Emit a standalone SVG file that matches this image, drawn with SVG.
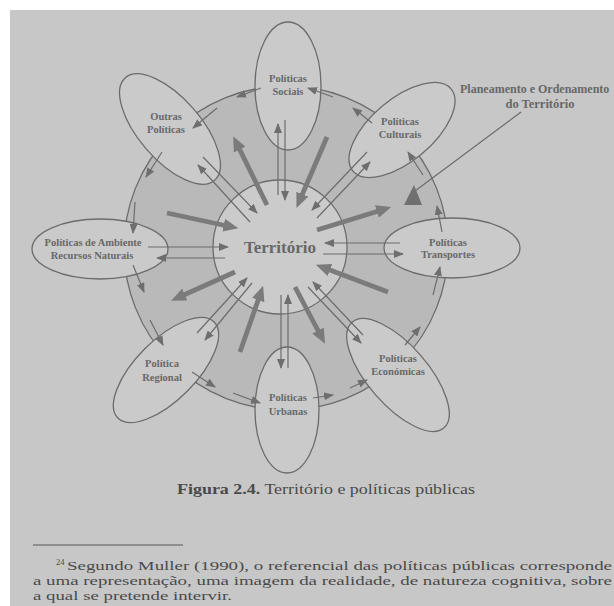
<svg xmlns="http://www.w3.org/2000/svg" width="614" height="606" viewBox="0 0 614 606">
<defs>
<style>
.lbl{font-family:"Liberation Serif",serif;font-weight:bold;font-size:10.5px;fill:#686868;text-anchor:middle}
.el{fill:#cacaca;stroke:#6c6c6c;stroke-width:1.3}
.thick{stroke:#7b7b7b;stroke-width:4.8;fill:none;marker-end:url(#hb)}
.thin{stroke:#6c6c6c;stroke-width:1.2;fill:none;marker-end:url(#hs)}
.txt{font-family:"Liberation Serif","DejaVu Serif",serif;fill:#4a4a4a}
</style>
<marker id="hb" markerUnits="userSpaceOnUse" markerWidth="15" markerHeight="13" refX="8.5" refY="6.5" orient="auto" viewBox="0 0 15 13"><path d="M0,0 L15,6.5 L0,13 z" fill="#7b7b7b"/></marker>
<marker id="hs" markerUnits="userSpaceOnUse" markerWidth="10" markerHeight="8" refX="9" refY="4" orient="auto" viewBox="0 0 10 8"><path d="M0,0 L10,4 L0,8 z" fill="#6e6e6e"/></marker>
</defs>
<rect x="0" y="0" width="614" height="606" fill="#ffffff"/>
<rect x="10" y="10" width="604" height="596" fill="#c7c7c7"/>

<g id="ring"><circle cx="286" cy="248" r="162" fill="#b9b9b9" stroke="#6c6c6c" stroke-width="1.3"/></g>
<g id="territorio">
<circle cx="280" cy="247" r="67" fill="#cbcbcb" stroke="#6c6c6c" stroke-width="1.3"/>
<text x="280" y="253" class="lbl" style="font-size:17px">Território</text>
</g>

<g id="n-sociais"><ellipse class="el" cx="288" cy="86" rx="33" ry="64"/>
<text class="lbl" x="288" y="82">Políticas</text><text class="lbl" x="288" y="95">Sociais</text></g>
<g id="n-outras"><ellipse class="el" cx="170" cy="129" rx="68" ry="31" transform="rotate(49 170 129)"/>
<text class="lbl" x="166" y="120">Outras</text><text class="lbl" x="166" y="133">Políticas</text></g>
<g id="n-culturais"><ellipse class="el" cx="402" cy="130" rx="64" ry="31" transform="rotate(-40 402 130)"/>
<text class="lbl" x="400" y="125">Políticas</text><text class="lbl" x="400" y="138">Culturais</text></g>
<g id="n-ambiente"><ellipse class="el" cx="100" cy="249" rx="68" ry="30"/>
<text class="lbl" x="93" y="246">Políticas de Ambiente</text><text class="lbl" x="92" y="259">Recursos Naturais</text></g>
<g id="n-transportes"><ellipse class="el" cx="452" cy="248" rx="68" ry="30"/>
<text class="lbl" x="448" y="246">Políticas</text><text class="lbl" x="448" y="258">Transportes</text></g>
<g id="n-regional"><ellipse class="el" cx="166" cy="370" rx="68" ry="30" transform="rotate(-45 166 370)"/>
<text class="lbl" x="162" y="367">Política</text><text class="lbl" x="162" y="381">Regional</text></g>
<g id="n-urbanas"><ellipse class="el" cx="287" cy="410" rx="32" ry="63"/>
<text class="lbl" x="288" y="401">Políticas</text><text class="lbl" x="288" y="415">Urbanas</text></g>
<g id="n-economicas"><ellipse class="el" cx="398" cy="375" rx="70" ry="30" transform="rotate(49 398 375)"/>
<text class="lbl" x="398" y="362">Políticas</text><text class="lbl" x="398" y="375">Económicas</text></g>
<g id="n-planeamento">
<text class="lbl" x="460" y="93" style="font-size:12px;text-anchor:start">Planeamento e Ordenamento</text>
<text class="lbl" x="540" y="108" style="font-size:12.5px">do Território</text>
</g>

<g id="connectors">
<line class="thick" x1="267" y1="205" x2="236" y2="142"/>
<line class="thick" x1="327" y1="137" x2="299" y2="202"/>
<line class="thick" x1="317" y1="230" x2="385" y2="209"/>
<line class="thick" x1="388" y1="292" x2="322" y2="267"/>
<line class="thick" x1="295" y1="287" x2="322" y2="338"/>
<line class="thick" x1="240" y1="352" x2="261" y2="292"/>
<line class="thick" x1="235" y1="272" x2="177" y2="298"/>
<line class="thick" x1="167" y1="213" x2="232" y2="227"/>
<line class="thin" x1="278" y1="195" x2="278" y2="124"/>
<line class="thin" x1="285" y1="120" x2="285" y2="200"/>
<line class="thin" x1="250" y1="222" x2="198" y2="165"/>
<line class="thin" x1="203" y1="157" x2="257" y2="213"/>
<line class="thin" x1="317" y1="218" x2="370" y2="162"/>
<line class="thin" x1="367" y1="152" x2="312" y2="210"/>
<line class="thin" x1="400" y1="243" x2="325" y2="243"/>
<line class="thin" x1="323" y1="254" x2="403" y2="254"/>
<line class="thin" x1="148" y1="247" x2="228" y2="247"/>
<line class="thin" x1="225" y1="258" x2="157" y2="258"/>
<line class="thin" x1="197" y1="333" x2="247" y2="278"/>
<line class="thin" x1="252" y1="283" x2="205" y2="340"/>
<line class="thin" x1="281" y1="295" x2="281" y2="368"/>
<line class="thin" x1="288" y1="368" x2="288" y2="295"/>
<line class="thin" x1="308" y1="287" x2="361" y2="343"/>
<line class="thin" x1="363" y1="335" x2="313" y2="282"/>
<line class="thin" x1="333" y1="97" x2="308" y2="88"/>
<line class="thin" x1="261" y1="88" x2="237" y2="97"/>
<line class="thin" x1="217" y1="108" x2="193" y2="128"/>
<line class="thin" x1="162" y1="152" x2="146" y2="177"/>
<line class="thin" x1="135" y1="202" x2="133" y2="233"/>
<line class="thin" x1="133" y1="265" x2="144" y2="292"/>
<line class="thin" x1="150" y1="320" x2="163" y2="345"/>
<line class="thin" x1="192" y1="372" x2="215" y2="387"/>
<line class="thin" x1="233" y1="393" x2="260" y2="403"/>
<line class="thin" x1="313" y1="398" x2="333" y2="395"/>
<line class="thin" x1="350" y1="388" x2="367" y2="380"/>
<line class="thin" x1="405" y1="345" x2="420" y2="327"/>
<line class="thin" x1="433" y1="295" x2="440" y2="267"/>
<line class="thin" x1="442" y1="232" x2="437" y2="206"/>
<line class="thin" x1="423" y1="175" x2="408" y2="152"/>
<line class="thin" x1="372" y1="123" x2="353" y2="108"/>
<line x1="521" y1="112" x2="415" y2="191" stroke="#6c6c6c" stroke-width="1.2"/>
<polygon points="404,205 414,185 422,205" fill="#707070"/>
</g>

<g id="caption">
<text class="txt" x="177" y="494" style="font-size:14.5px" textLength="298" lengthAdjust="spacingAndGlyphs"><tspan font-weight="bold">Figura 2.4.</tspan> Território e políticas públicas</text>
</g>
<g id="footnote">
<line x1="33" y1="545" x2="183" y2="545" stroke="#555" stroke-width="1"/>
<text class="txt" x="56" y="565" style="font-size:8.5px">24</text>
<text class="txt" x="67" y="570" style="font-size:13px" textLength="545" lengthAdjust="spacingAndGlyphs">Segundo Muller (1990), o referencial das políticas públicas corresponde</text>
<text class="txt" x="33" y="585" style="font-size:13px" textLength="579" lengthAdjust="spacingAndGlyphs">a uma representação, uma imagem da realidade, de natureza cognitiva, sobre</text>
<text class="txt" x="33" y="600" style="font-size:13px" textLength="199" lengthAdjust="spacingAndGlyphs">a qual se pretende intervir.</text>
</g>
</svg>
